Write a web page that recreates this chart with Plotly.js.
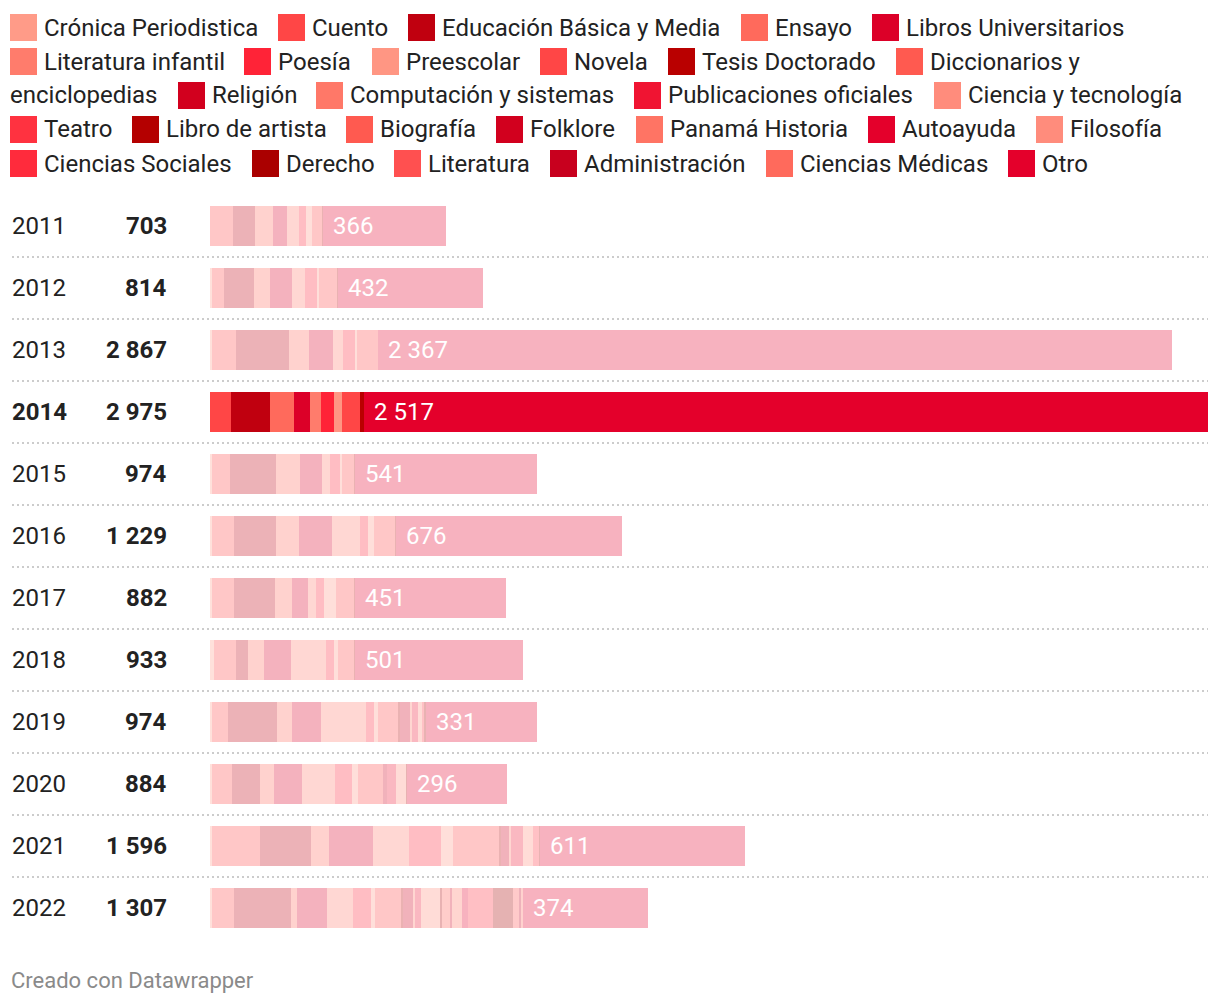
<!DOCTYPE html>
<html>
<head>
<meta charset="utf-8">
<script src="https://cdn.plot.ly/plotly-3.0.1.min.js"></script>
<style>
  html, body { margin: 0; padding: 0; background: #ffffff; }
  #chart { width: 1220px; height: 1006px; }
</style>
</head>
<body>
<div id="chart"></div>
<script>
// ---------- DATA ----------
const years = ['2011','2012','2013','2014','2015','2016','2017','2018','2019','2020','2021','2022'];
const totals = [703, 814, 2867, 2975, 974, 1229, 882, 933, 974, 884, 1596, 1307];
const highlightYear = '2014';

const categories = [
  'Crónica Periodistica','Cuento','Educación Básica y Media','Ensayo','Libros Universitarios',
  'Literatura infantil','Poesía','Preescolar','Novela','Tesis Doctorado','Diccionarios y enciclopedias',
  'Religión','Computación y sistemas','Publicaciones oficiales','Ciencia y tecnología',
  'Teatro','Libro de artista','Biografía','Folklore','Panamá Historia','Autoayuda','Filosofía',
  'Ciencias Sociales','Derecho','Literatura','Administración','Ciencias Médicas','Otro'
];
const colors = [
  '#ff9b88','#ff4646','#c0000f','#ff6a5c','#dc0028',
  '#ff7c6c','#ff2337','#ff9683','#ff4646','#b90000','#ff5a50',
  '#d2001e','#ff7868','#f01432','#ff8c7c',
  '#ff3240','#b40000','#ff5a50','#d2001e','#ff7464','#e4002b','#ff8c7c',
  '#ff2b3c','#aa0000','#ff5050','#c8001e','#ff6a5c','#e4002b'
];

//                       2011 2012 2013 2014 2015 2016 2017 2018 2019 2020 2021 2022
const cronica         = [   0,   5,   5,   0,   5,   5,   6,  12,   6,   6,   6,   6];
const cuento          = [  70,  37,  73,  64,  55,  67,  66,  66,  48,  60, 142,  66];
const educacion       = [  65,  89, 157, 114, 136, 126, 123,  36, 147,  83, 154, 168];
const ensayo          = [  53,  47,  60,  71,  72,  66,  48,  48,  42,  42,  54,  18];
const librosUniv      = [  41,  65,  72,  48,  66, 100,  48,  78,  88,  83, 130,  90];
const litInfantil     = [  35,  41,  30,  35,  24,  84,  24, 105, 134, 100, 106,  78];
const poesia          = [  23,  35,  36,  37,  30,  24,  24,  24,  24,  48,  96,  54];
const preescolar      = [  18,   6,   6,  24,   6,  18,  36,  12,  12,  18,  36,  12];
const novela          = [  28,  53,  61,  53,  36,  60,  53,  48,  59,  77, 136,  78];
const tesis           = [   4,   4,   0,  12,   3,   3,   3,   3,   6,   0,   6,   6];
const diccionarios    = [   0,   0,   0,   0,   0,   0,   0,   0,   0,   0,   0,   0];
const religion        = [   0,   0,   0,   0,   0,   0,   0,   0,  30,  12,  24,  30];
const computacion     = [   0,   0,   0,   0,   0,   0,   0,   0,   6,   0,   6,   6];
const publicaciones   = [   0,   0,   0,   0,   0,   0,   0,   0,  18,  24,  36,  18];
const cienciaTec      = [   0,   0,   0,   0,   0,   0,   0,   0,  12,  30,  30,  57];
const teatro          = [   0,   0,   0,   0,   0,   0,   0,   0,   6,   0,  18,   0];
const libroArtista    = [   0,   0,   0,   0,   0,   0,   0,   0,   5,   5,   5,   6];
const biografia       = [   0,   0,   0,   0,   0,   0,   0,   0,   0,   0,   0,  21];
const folklore        = [   0,   0,   0,   0,   0,   0,   0,   0,   0,   0,   0,   6];
const panamaHistoria  = [   0,   0,   0,   0,   0,   0,   0,   0,   0,   0,   0,  30];
const autoayuda       = [   0,   0,   0,   0,   0,   0,   0,   0,   0,   0,   0,  18];
const filosofia       = [   0,   0,   0,   0,   0,   0,   0,   0,   0,   0,   0,   0];
const cienciasSociales= [   0,   0,   0,   0,   0,   0,   0,   0,   0,   0,   0,  75];
const derecho         = [   0,   0,   0,   0,   0,   0,   0,   0,   0,   0,   0,  60];
const literatura      = [   0,   0,   0,   0,   0,   0,   0,   0,   0,   0,   0,  18];
const administracion  = [   0,   0,   0,   0,   0,   0,   0,   0,   0,   0,   0,   6];
const cienciasMedicas = [   0,   0,   0,   0,   0,   0,   0,   0,   0,   0,   0,   6];
const otro            = [ 366, 432,2367,2517, 541, 676, 451, 501, 331, 296, 611, 374];

const series = [cronica, cuento, educacion, ensayo, librosUniv, litInfantil, poesia, preescolar,
  novela, tesis, diccionarios, religion, computacion, publicaciones, cienciaTec, teatro,
  libroArtista, biografia, folklore, panamaHistoria, autoayuda, filosofia, cienciasSociales,
  derecho, literatura, administracion, cienciasMedicas, otro];

// ---------- LAYOUT HELPERS (pixel geometry) ----------
const W = 1220, H = 1006;
const M = {l: 210, r: 12, t: 195, b: 67};
const plotW = W - M.l - M.r, plotH = H - M.t - M.b;
const px2x = p => (p - M.l) / plotW;
const px2y = p => (H - M.b - p) / plotH;
const FONT = 'Roboto, "Noto Sans", sans-serif';
const TXT = '#222222';
const FS = 24;

// Legend placement: [swatch left px, row index]
const legendPos = [
  [10,0],[278,0],[408,0],[741,0],[872,0],
  [10,1],[244,1],[372,1],[540,1],[668,1],[896,1],
  [178,2],[316,2],[634,2],[934,2],
  [10,3],[132,3],[346,3],[496,3],[636,3],[868,3],[1036,3],
  [10,4],[252,4],[394,4],[550,4],[766,4],[1008,4]
];
const legendRowY = [27.5, 61.5, 95.5, 129.5, 163.5];
const SW = 27;

const fmt = n => String(n).replace(/\B(?=(\d{3})+(?!\d))/g, ' ');

// ---------- TRACES ----------
const opac = years.map(y => y === highlightYear ? 1 : 0.3);
const traces = categories.map((c, i) => ({
  type: 'bar',
  orientation: 'h',
  name: c,
  y: years,
  x: series[i],
  marker: {color: colors[i], opacity: opac, line: {width: 0}},
  hoverinfo: 'skip',
  showlegend: false
}));

// ---------- ANNOTATIONS & SHAPES ----------
const annotations = [];
const shapes = [];

// legend
categories.forEach((c, i) => {
  const [sx, row] = legendPos[i];
  const cy = legendRowY[row];
  shapes.push({type: 'rect', xref: 'paper', yref: 'paper',
    x0: px2x(sx), x1: px2x(sx + SW), y0: px2y(cy + SW/2), y1: px2y(cy - SW/2),
    fillcolor: colors[i], line: {width: 0}});
  let first = c, rest = null;
  if (c === 'Diccionarios y enciclopedias') {
    const k = c.lastIndexOf(' ');
    first = c.slice(0, k); rest = c.slice(k + 1);
  }
  annotations.push({xref: 'paper', yref: 'paper', x: px2x(sx + SW + 5), y: px2y(cy),
    xanchor: 'left', yanchor: 'middle', text: first, showarrow: false,
    font: {family: FONT, size: FS, color: TXT}});
  if (rest) {
    annotations.push({xref: 'paper', yref: 'paper', x: px2x(8), y: px2y(legendRowY[row + 1]),
      xanchor: 'left', yanchor: 'middle', text: rest, showarrow: false,
      font: {family: FONT, size: FS, color: TXT}});
  }
});

// year labels, totals, Otro labels (y given as category index)
years.forEach((y, i) => {
  const hl = y === highlightYear;
  annotations.push({xref: 'paper', yref: 'y', x: px2x(10), y: i, xanchor: 'left', yanchor: 'middle',
    text: y, showarrow: false, font: {family: FONT, size: FS, color: TXT, weight: hl ? 700 : 400}});
  annotations.push({xref: 'paper', yref: 'y', x: px2x(169), y: i, xanchor: 'right', yanchor: 'middle',
    text: fmt(totals[i]), showarrow: false, font: {family: FONT, size: FS, color: TXT, weight: 700}});
  let start = 0;
  for (let k = 0; k < series.length - 1; k++) start += series[k][i];
  annotations.push({xref: 'x', yref: 'y', x: start, y: i, xanchor: 'left', yanchor: 'middle', xshift: 8,
    text: fmt(otro[i]), showarrow: false, font: {family: FONT, size: FS, color: '#ffffff'}});
  if (i < years.length - 1) {
    shapes.push({type: 'line', xref: 'paper', yref: 'y', x0: px2x(12), x1: 1, y0: i + 0.5, y1: i + 0.5,
      line: {color: '#cccccc', width: 2, dash: '2px,3px'}});
  }
});

// footer
annotations.push({xref: 'paper', yref: 'paper', x: px2x(9), y: px2y(980), xanchor: 'left', yanchor: 'middle',
  text: 'Creado con Datawrapper', showarrow: false, font: {family: FONT, size: 22, color: '#8a8a8a'}});

const layout = {
  width: W, height: H,
  margin: M,
  paper_bgcolor: '#ffffff', plot_bgcolor: '#ffffff',
  barmode: 'stack',
  bargap: 0.355,
  showlegend: false,
  xaxis: {range: [0, totals[years.indexOf(highlightYear)]], autorange: false, visible: false, fixedrange: true},
  yaxis: {type: 'category', categoryorder: 'array', categoryarray: years,
          range: [years.length - 0.5, -0.5], autorange: false, visible: false, fixedrange: true},
  annotations: annotations,
  shapes: shapes,
  font: {family: FONT}
};

Plotly.newPlot('chart', traces, layout, {displayModeBar: false, staticPlot: true});
</script>
</body>
</html>
